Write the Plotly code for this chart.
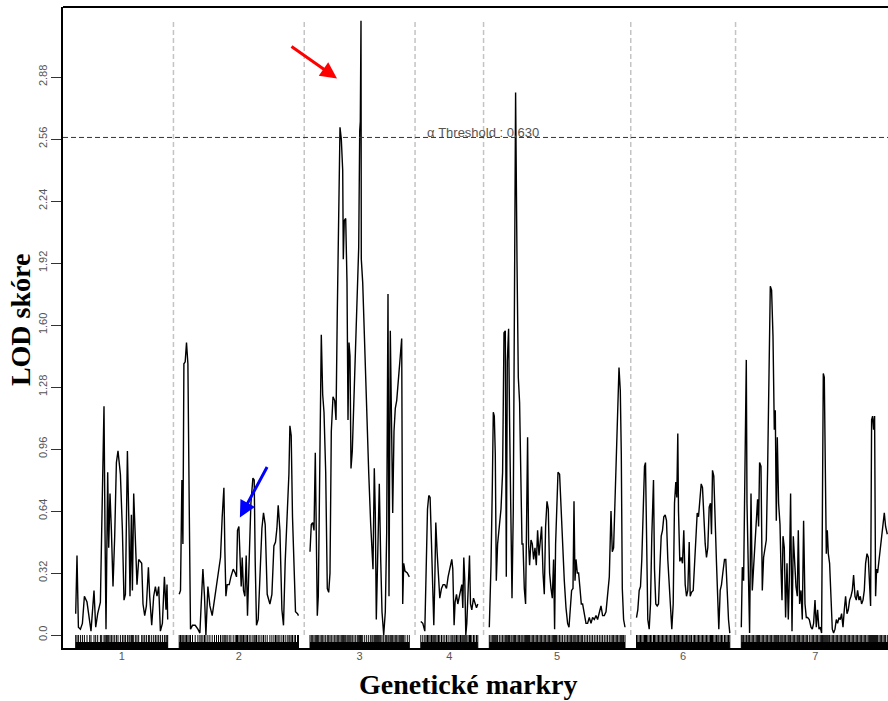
import plotly.graph_objects as go

# ---- LOD scan data (position in cM within each chromosome, LOD score) ----
chrom_names = ["1", "2", "3", "4", "5", "6", "7"]
chrom_lengths = [92.0, 119.3, 99.3, 57.0, 135.7, 93.3, 148.0]
first_offset = 12.7
chrom_gap = 11.5

pos1 = [0, 1.3, 2.7, 4.7, 6.7, 8.7, 11.3, 14, 15.3, 18.3, 20, 22, 24.7, 26, 28.3, 29.3, 30.3, 31, 32, 33,
        34.3, 35.7, 37.3, 39, 40.7, 42.3, 44.7, 46.7, 48.3, 49.7, 51.7, 53.3, 54.3, 55.7, 56.7, 58, 60, 61.3, 63, 66,
        67.3, 69, 70.7, 72.7, 74, 76, 78, 79.7, 81.3, 83, 84.7, 86.7, 88.7, 90.3, 91.3, 92]
lod1 = [0.11, 0.41, 0.04, 0.03, 0.06, 0.20, 0.17, 0.06, 0.02, 0.23, 0.04, 0.11, 0.17, 0.54, 1.18, 0.54, 0.03, 0.37, 0.84, 0.45,
        0.73, 0.54, 0.25, 0.51, 0.89, 0.95, 0.83, 0.54, 0.18, 0.21, 0.95, 0.55, 0.20, 0.62, 0.23, 0.73, 0.42, 0.26, 0.39, 0.37,
        0.16, 0.10, 0.15, 0.35, 0.20, 0.05, 0.20, 0.25, 0.20, 0.25, 0.02, 0.06, 0.30, 0.13, 0.26, 0.08]

pos2 = [0, 1.3, 2.7, 3.7, 4.7, 6, 7.3, 8.7, 10, 11.3, 13.3, 16, 18.7, 20.7, 22, 23.7, 25.3, 26.7, 28.7, 30.7,
        33, 35.3, 37.3, 39.3, 41.3, 43, 44.7, 45.7, 46.7, 48, 50, 51.7, 54, 56, 57.3, 58.3, 59.7, 61, 62, 63,
        64.3, 65.7, 67, 68.3, 70, 71.7, 73.7, 75, 76, 77.3, 79, 80.7, 82.7, 84.3, 86, 88, 90.7, 92.7, 94.7, 96.3,
        97.7, 99, 100.7, 102.7, 104.3, 106, 108, 109.7, 110.7, 112, 113.3, 115, 116.3, 118.3, 119.3]
lod2 = [0.21, 0.23, 0.80, 0.47, 1.40, 1.41, 1.51, 1.40, 0.68, 0.03, 0.05, 0.05, 0.03, 0.01, 0.16, 0.34, 0.20, 0.00, 0.25, 0.15,
        0.10, 0.18, 0.26, 0.31, 0.40, 0.61, 0.76, 0.43, 0.20, 0.26, 0.26, 0.30, 0.34, 0.32, 0.30, 0.54, 0.56, 0.38, 0.25, 0.40,
        0.23, 0.20, 0.41, 0.10, 0.38, 0.68, 0.81, 0.80, 0.38, 0.05, 0.08, 0.26, 0.55, 0.63, 0.57, 0.21, 0.16, 0.21, 0.46, 0.48,
        0.55, 0.67, 0.54, 0.13, 0.05, 0.38, 0.61, 0.83, 1.08, 1.03, 0.61, 0.26, 0.12, 0.11, 0.10]

pos3 = [0, 1.3, 2.7, 4, 5.3, 6.7, 7.3, 8.3, 10, 11.3, 12.7, 14, 15.7, 17.3, 18.7, 20, 21.3, 23, 24.7, 26,
        27.3, 28.7, 30, 31.3, 32.7, 33.3, 34.3, 35.7, 37, 38, 39, 40, 41, 42.3, 44, 45.7, 47.3, 48.7, 49.7, 50.3,
        51, 51.3, 52.7, 54.7, 56.7, 58.7, 60.7, 62, 63, 64.3, 65.3, 66.3, 67.3, 68.3, 69.3, 70.7, 72, 73.7, 75.3, 76.7,
        78, 79, 80.3, 81.7, 82.7, 84, 85.3, 86.7, 88, 89.3, 90.7, 91.7, 92.7, 93.7, 95, 97.3, 99.3]
lod3 = [0.43, 0.57, 0.58, 0.54, 0.94, 0.20, 0.10, 0.20, 1.15, 1.55, 1.24, 1.15, 0.84, 0.24, 0.22, 0.32, 1.05, 1.23, 1.21, 1.11,
        1.67, 2.19, 2.62, 2.56, 2.40, 1.94, 2.14, 2.15, 1.82, 1.11, 1.51, 1.44, 0.86, 0.95, 1.26, 1.57, 1.82, 2.00, 2.60, 2.65,
        3.17, 1.94, 1.82, 1.46, 1.15, 0.84, 0.57, 0.43, 0.34, 0.86, 0.63, 0.08, 0.37, 0.66, 0.78, 0.39, 0.12, 0.00, 0.12, 0.53,
        1.76, 0.20, 1.57, 1.03, 0.63, 1.05, 1.17, 1.21, 1.30, 1.36, 1.44, 1.53, 0.16, 0.37, 0.33, 0.32, 0.30]

pos4 = [0, 2, 4, 5.3, 6.7, 8, 9.3, 10.7, 12, 13, 14, 15, 16.3, 17.7, 19, 20.7, 22.3, 24, 25.7, 27.3,
        29.3, 31, 32, 33.3, 34.3, 35.7, 37, 38.3, 39.7, 41, 42, 43, 44, 45, 46, 47.3, 48.7, 49.7, 51, 52.7,
        54, 55.7, 57]
lod4 = [0.07, 0.06, 0.02, 0.28, 0.65, 0.72, 0.71, 0.47, 0.17, 0.05, 0.28, 0.58, 0.43, 0.28, 0.19, 0.24, 0.26, 0.26, 0.24, 0.30,
        0.36, 0.39, 0.34, 0.05, 0.17, 0.21, 0.16, 0.19, 0.24, 0.26, 0.14, 0.40, 0.28, 0.00, 0.06, 0.21, 0.41, 0.16, 0.13, 0.19,
        0.17, 0.14, 0.16]

pos5 = [0, 1.7, 3, 4, 5, 6, 7, 8.3, 10, 11.7, 13.3, 14.7, 16, 17, 18, 19.3, 20.3, 21.7, 22.7, 24,
        25.3, 26.3, 27.7, 29, 30.3, 31.7, 32.7, 33.7, 35, 36.3, 37.3, 38.3, 39.3, 40.3, 41.7, 43, 44.3, 45.7, 47, 48.3,
        49.7, 51, 52.3, 53.7, 55, 56.3, 57.7, 59, 60.3, 61.7, 63, 64.3, 65.3, 66.3, 67.3, 68.7, 70.3, 71.7, 73.3, 75,
        76.7, 78.3, 79.7, 81, 82.3, 83.7, 84.7, 85.7, 86.7, 88, 89.3, 90.7, 92, 93.3, 95, 96.7, 98.3, 100, 101.7, 103.3,
        105, 106.7, 108.3, 110, 111.7, 113.3, 115, 116.7, 118.3, 120, 121.7, 123, 124.3, 125.7, 127, 128.3, 129.7, 131, 132, 133,
        134.3, 135.7]
lod5 = [0.04, 0.36, 0.76, 1.15, 1.13, 0.93, 0.28, 0.47, 0.56, 0.65, 0.84, 1.56, 1.57, 0.30, 1.41, 1.58, 1.10, 0.47, 0.19, 0.65,
        1.93, 2.80, 1.93, 1.33, 1.20, 0.84, 0.47, 0.47, 0.24, 0.16, 0.65, 1.02, 0.47, 0.36, 0.49, 0.47, 0.39, 0.45, 0.36, 0.54,
        0.41, 0.50, 0.56, 0.32, 0.21, 0.56, 0.69, 0.65, 0.32, 0.24, 0.19, 0.39, 0.03, 0.47, 0.65, 0.84, 0.83, 0.65, 0.47, 0.28,
        0.14, 0.06, 0.04, 0.17, 0.23, 0.24, 0.69, 0.28, 0.39, 0.32, 0.32, 0.24, 0.16, 0.16, 0.10, 0.06, 0.06, 0.09, 0.06, 0.09,
        0.08, 0.10, 0.08, 0.12, 0.15, 0.10, 0.10, 0.12, 0.21, 0.30, 0.64, 0.43, 0.45, 0.71, 0.93, 1.20, 1.38, 1.26, 0.93, 0.24,
        0.08, 0.04]

pos6 = [0, 1.3, 2.7, 4, 5.3, 6.7, 8, 9, 10, 11.3, 12.7, 14, 15.3, 17, 18, 19.3, 20.7, 22, 23.3, 24.7,
        26, 27.3, 28.7, 30, 31.3, 32.7, 34, 35.3, 36.7, 38, 39.3, 40.3, 41.3, 42, 43.3, 44.7, 46, 47.3, 48.7, 50,
        51.3, 52.7, 53.7, 55, 56.7, 58, 59.3, 60.7, 62, 63.3, 64.7, 66, 67.3, 68.7, 70, 71.3, 72.7, 74, 75, 76,
        77.3, 78.7, 80, 81.3, 82.3, 83.7, 85, 86.3, 88, 89.3, 90.7, 92, 93.3]
lod6 = [0.09, 0.13, 0.23, 0.25, 0.39, 0.68, 0.87, 0.89, 0.51, 0.08, 0.03, 0.16, 0.51, 0.80, 0.34, 0.16, 0.15, 0.16, 0.34, 0.51,
        0.54, 0.61, 0.62, 0.59, 0.39, 0.25, 0.11, 0.03, 0.16, 0.68, 0.79, 0.71, 1.04, 0.64, 0.38, 0.40, 0.37, 0.54, 0.26, 0.20,
        0.23, 0.48, 0.20, 0.22, 0.23, 0.34, 0.47, 0.63, 0.61, 0.71, 0.78, 0.76, 0.57, 0.47, 0.40, 0.45, 0.66, 0.68, 0.52, 0.85,
        0.82, 0.51, 0.37, 0.18, 0.03, 0.23, 0.26, 0.32, 0.39, 0.39, 0.20, 0.08, 0.01]

pos7 = [0, 1, 2.3, 3.7, 5, 5.7, 7, 8.3, 9.7, 11, 12.3, 13.7, 15, 16.3, 17.3, 18.3, 19.7, 21, 22.3, 23.7,
        25, 26.3, 27.7, 29, 30.3, 31.7, 33, 34, 35, 36, 37.3, 38.7, 39.7, 40.7, 41.7, 43, 44.3, 45.7, 47, 48,
        49.3, 50.7, 52, 53.3, 54.7, 56, 57, 58.3, 59.7, 61, 62.3, 63.7, 65, 66.3, 68, 69.7, 71, 72.3, 73.7, 75,
        76.3, 77.7, 79, 80.3, 81.3, 82, 83, 84, 85, 86, 87, 88.3, 89.7, 91, 92.3, 93.7, 95, 96.3, 97.7, 99,
        100.3, 101.7, 103, 104.3, 105.7, 107, 108.3, 109.7, 111, 112.3, 113.7, 115, 116.3, 117.7, 119, 120.3, 121.7, 123, 124.3, 125.7,
        127, 128.3, 129.3, 130.3, 131.3, 132.3, 133.3, 134.3, 135.3, 136.3, 137.7, 139, 140.3, 141.7, 143, 144.3, 146]
lod7 = [0.04, 0.35, 0.28, 0.87, 1.42, 0.68, 0.26, 0.01, 0.73, 0.23, 0.35, 0.47, 0.54, 0.70, 0.56, 0.89, 0.87, 0.23, 0.40, 0.45,
        0.49, 0.85, 1.25, 1.80, 1.78, 1.54, 1.06, 1.16, 0.59, 1.02, 0.68, 0.57, 0.34, 0.18, 0.51, 0.45, 0.09, 0.37, 0.08, 0.28,
        0.73, 0.02, 0.51, 0.34, 0.25, 0.20, 0.54, 0.16, 0.23, 0.08, 0.59, 0.16, 0.09, 0.09, 0.08, 0.04, 0.03, 0.06, 0.18, 0.04,
        0.13, 0.03, 0.04, 0.01, 1.19, 1.35, 1.33, 0.85, 0.42, 0.54, 0.42, 0.37, 0.16, 0.03, 0.01, 0.03, 0.08, 0.06, 0.09, 0.08,
        0.11, 0.04, 0.13, 0.20, 0.11, 0.13, 0.18, 0.20, 0.23, 0.31, 0.20, 0.18, 0.23, 0.18, 0.20, 0.16, 0.18, 0.23, 0.37, 0.42,
        0.40, 0.25, 0.15, 1.11, 1.13, 1.06, 1.13, 0.20, 0.34, 0.32, 0.39, 0.45, 0.52, 0.59, 0.63, 0.56, 0.52]

positions = [pos1, pos2, pos3, pos4, pos5, pos6, pos7]
lods = [lod1, lod2, lod3, lod4, lod5, lod6, lod7]

threshold = 2.568
threshold_label = "α Threshold : 0.630"
y_ticks = [0.0, 0.32, 0.64, 0.96, 1.28, 1.60, 1.92, 2.24, 2.56, 2.88]
y_ticktext = ["0.0", "0.32", "0.64", "0.96", "1.28", "1.60", "1.92", "2.24", "2.56", "2.88"]

# ---- genome-wide layout of chromosomes ----
offsets = []
cur = first_offset
for L in chrom_lengths:
    offsets.append(cur)
    cur += L + chrom_gap

Y_MIN, Y_MAX = -0.0671, 3.2413
X_MAX = 825.0
RUG_SOLID = -0.036
SEP_TOP = 3.17

fig = go.Figure()

# LOD curves
for p, v, off in zip(positions, lods, offsets):
    assert len(p) == len(v)
    fig.add_trace(go.Scatter(x=[off + q for q in p], y=v, mode="lines",
                             line=dict(color="black", width=1.4), hoverinfo="skip", showlegend=False))

# marker rug: solid band plus individual ticks
for p, off, L in zip(positions, offsets, chrom_lengths):
    fig.add_trace(go.Scatter(x=[off, off + L, off + L, off, off],
                             y=[RUG_SOLID, RUG_SOLID, Y_MIN, Y_MIN, RUG_SOLID],
                             mode="lines", fill="toself", fillcolor="black",
                             line=dict(color="black", width=0), hoverinfo="skip", showlegend=False))
    xs, ys = [], []
    for q in p:
        xs += [off + q, off + q, None]
        ys += [0.0, Y_MIN, None]
    fig.add_trace(go.Scatter(x=xs, y=ys, mode="lines", line=dict(color="black", width=1),
                             hoverinfo="skip", showlegend=False))

# chromosome separators
for i in range(1, len(offsets)):
    xsep = offsets[i] - chrom_gap / 2
    fig.add_trace(go.Scatter(x=[xsep, xsep], y=[0, SEP_TOP], mode="lines",
                             line=dict(color="#c4c4c4", width=1.5, dash="5px,3px"),
                             hoverinfo="skip", showlegend=False))

# significance threshold
fig.add_shape(type="line", xref="paper", x0=0, x1=1, yref="y", y0=threshold, y1=threshold,
              line=dict(color="#333333", width=1, dash="5px,3px"))
# top frame line
fig.add_shape(type="line", xref="paper", x0=0, x1=1.02, yref="paper", y0=1, y1=1,
              line=dict(color="black", width=2))

centers = [off + L / 2 for off, L in zip(offsets, chrom_lengths)]

annotations = [
    dict(x=offsets[3] + 4, y=threshold, xref="x", yref="y", text=threshold_label, showarrow=False,
         xanchor="left", yanchor="bottom", yshift=-5,
         font=dict(family="Liberation Sans, Arial", size=13, color="#555555")),
    dict(x=-0.052, y=0.5117, xref="paper", yref="paper", text="LOD skóre", textangle=-90, showarrow=False,
         xanchor="center", yanchor="middle",
         font=dict(family="Liberation Serif, Times New Roman", size=28, color="black", weight="bold")),
    dict(x=0.492, y=-0.0563, xref="paper", yref="paper", text="Genetické markry", showarrow=False,
         xanchor="center", yanchor="middle",
         font=dict(family="Liberation Serif, Times New Roman", size=28, color="black", weight="bold")),
]

# arrows pointing at the chromosome 3 and chromosome 2 peaks
i3 = lod3.index(2.62)
annotations.append(dict(x=offsets[2] + pos3[i3], y=lod3[i3], xref="x", yref="y", text="",
                        showarrow=True, arrowhead=2, arrowsize=1.1, arrowwidth=3, arrowcolor="#ff0000",
                        ax=-47, ay=-33, xshift=-3, yshift=49, standoff=0))
i2 = pos2.index(59.7)
annotations.append(dict(x=offsets[1] + pos2[i2], y=lod2[i2], xref="x", yref="y", text="",
                        showarrow=True, arrowhead=2, arrowsize=1.1, arrowwidth=3, arrowcolor="#0000ff",
                        ax=28, ay=-52, xshift=1, yshift=9, standoff=0))

fig.update_layout(
    width=888, height=701,
    margin=dict(l=63, r=0, t=7, b=53),
    paper_bgcolor="white", plot_bgcolor="white",
    showlegend=False,
    annotations=annotations,
    xaxis=dict(range=[0, X_MAX], showgrid=False, zeroline=False,
               showline=True, linecolor="black", linewidth=1.5,
               ticks="", tickmode="array", tickvals=centers, ticktext=chrom_names,
               ticklabelstandoff=-3,
               tickfont=dict(family="Liberation Sans, Arial", size=11, color="#555555")),
    yaxis=dict(range=[Y_MIN, Y_MAX], showgrid=False, zeroline=False,
               showline=True, linecolor="black", linewidth=1.5,
               ticks="outside", ticklen=10, tickwidth=1.2, tickcolor="#333333",
               tickmode="array", tickvals=y_ticks, ticktext=y_ticktext, tickangle=-90,
               tickfont=dict(family="Liberation Sans, Arial", size=11, color="#555555")),
)

fig.write_html("out.html")
